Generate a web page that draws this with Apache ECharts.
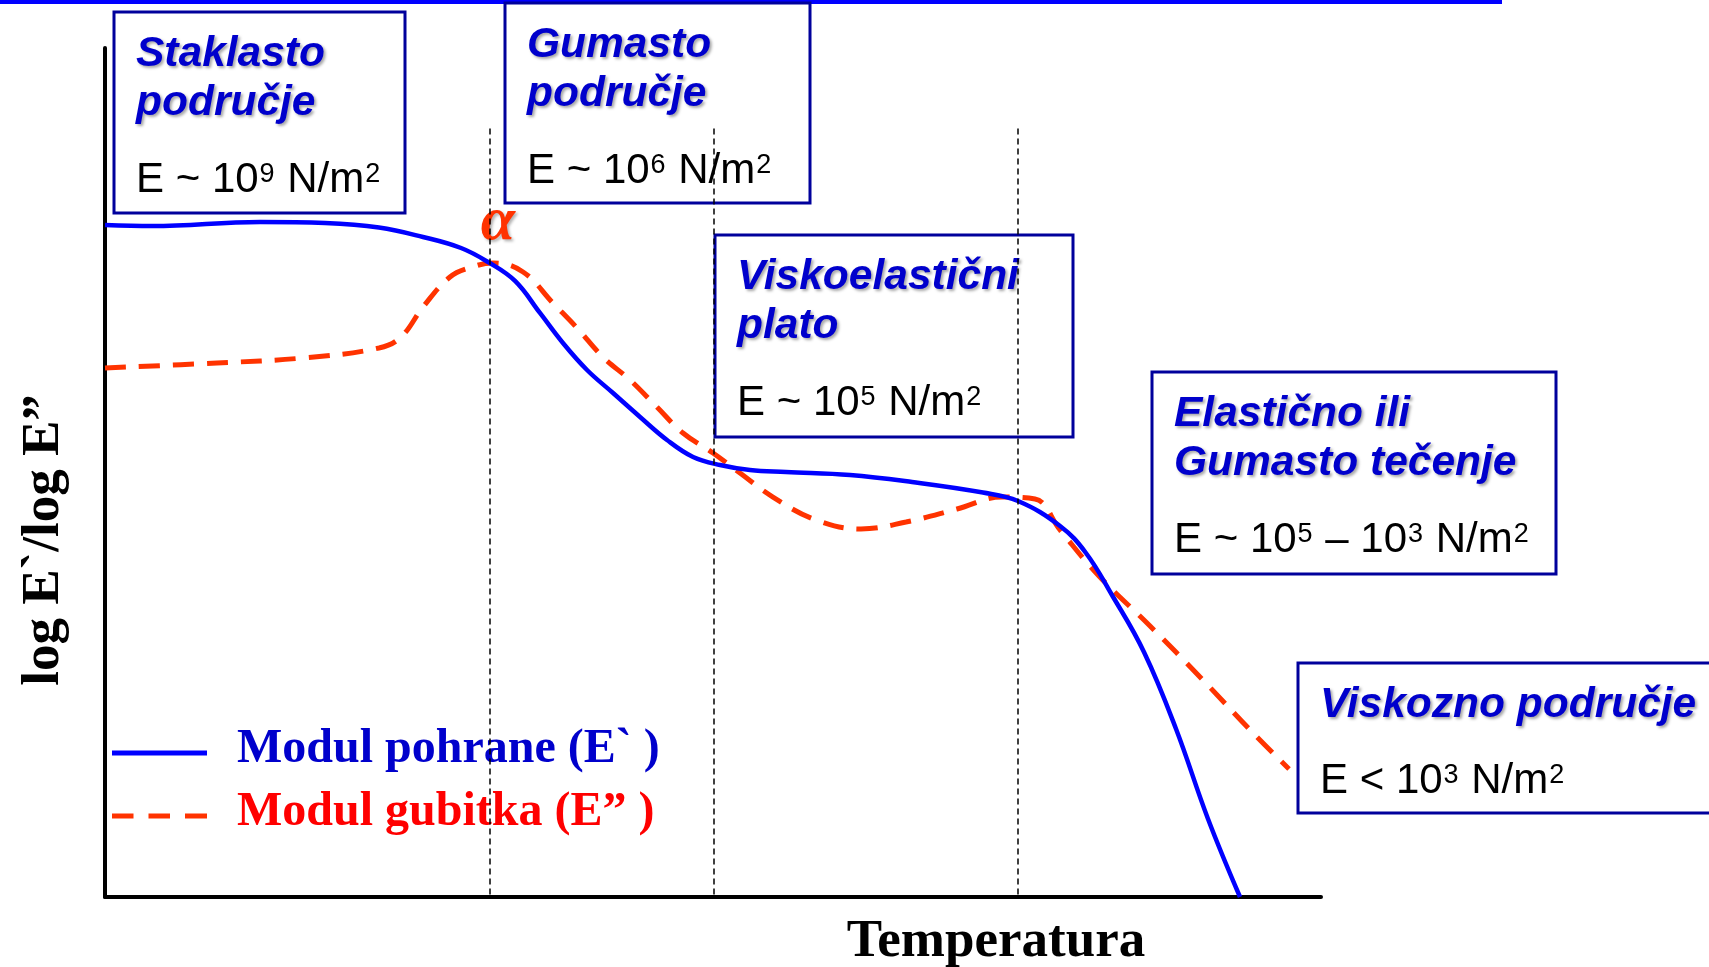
<!DOCTYPE html>
<html>
<head>
<meta charset="utf-8">
<title>Modul pohrane i modul gubitka</title>
<script src="https://cdn.jsdelivr.net/npm/echarts@6/dist/echarts.min.js"></script>
<style>
  html, body { margin: 0; padding: 0; background: #fff; }
  #chart { width: 1709px; height: 967px; }
</style>
</head>
<body>
<div id="chart"></div>
<script>
// temperatura i log modula u proizvoljnim jedinicama (0-100), očitano sa slike
const tempStorage = [0, 3.87, 12.75, 18.09, 22.53, 26.15, 29.28, 31.50, 33.72, 35.77, 37.66, 39.64, 41.78, 44.00, 46.22, 48.36, 50.58, 53.04, 56.00, 61.27, 66.37, 72.20, 75.08, 78.54, 80.67, 82.81, 85.44, 88.08, 90.71, 93.34];
const logStorage = [79.15, 79.03, 79.51, 79.39, 78.86, 77.74, 76.44, 74.79, 72.56, 68.79, 65.25, 62.07, 59.36, 56.54, 53.83, 51.83, 50.88, 50.29, 50.06, 49.71, 48.88, 47.64, 46.64, 43.70, 40.52, 35.57, 28.86, 19.79, 9.19, 0];

const tempLoss = [0, 9.21, 16.28, 22.53, 24.34, 26.15, 28.37, 30.18, 31.91, 34.38, 36.84, 38.82, 40.95, 43.17, 45.39, 47.53, 50.00, 52.22, 54.93, 58.47, 62.17, 65.87, 70.07, 73.77, 76.48, 78.54, 81.74, 85.94, 90.21, 94.41, 97.37];
const logLoss = [62.31, 62.90, 63.49, 64.66, 65.96, 69.49, 73.03, 74.20, 74.68, 73.62, 69.96, 67.02, 63.60, 60.90, 57.71, 54.65, 52.30, 49.94, 47.11, 44.41, 43.35, 44.17, 45.70, 47.11, 46.88, 43.23, 37.81, 31.92, 25.68, 19.32, 15.08];

// granice područja (isprekidane okomite linije)
const transitions = [31.66, 50.08, 75.08];
const transitionTop = 90.7;

const storageName = "Modul pohrane (E` )";
const lossName = "Modul gubitka (E” )";

const SANS = "'Liberation Sans', Arial, sans-serif";
const SERIF = "'Liberation Serif', 'Times New Roman', serif";
const BOX_BLUE = "#00009c";
const TITLE_BLUE = "#0000cc";

// okviri s opisima područja
const boxes = [
  { x: 114, y: 12, w: 291, h: 201, title: ["Staklasto", "područje"], formula: "{n|E ~ 10}{s|9}{n| N/m}{s|2}" },
  { x: 505, y: 3, w: 305, h: 200, title: ["Gumasto", "područje"], formula: "{n|E ~ 10}{s|6}{n| N/m}{s|2}" },
  { x: 715, y: 235, w: 358, h: 202, title: ["Viskoelastični", "plato"], formula: "{n|E ~ 10}{s|5}{n| N/m}{s|2}" },
  { x: 1152, y: 372, w: 404, h: 202, title: ["Elastično ili", "Gumasto tečenje"], formula: "{n|E ~ 10}{s|5}{n| – 10}{s|3}{n| N/m}{s|2}" },
  { x: 1298, y: 663, w: 480, h: 150, title: ["Viskozno područje"], formula: "{n|E < 10}{s|3}{n| N/m}{s|2}" },
];

const formulaRich = {
  n: { fill: "#000", fontSize: 42, fontFamily: SANS, lineHeight: 46 },
  s: { fill: "#000", fontSize: 27, fontFamily: SANS, lineHeight: 27, verticalAlign: "top", padding: [4, 1, 0, 1] },
};

const graphics = [
  { type: "rect", shape: { x: 0, y: 0, width: 1502, height: 4 }, style: { fill: "#0000ff" } },
];

boxes.forEach(function (b) {
  graphics.push({
    type: "rect",
    shape: { x: b.x, y: b.y, width: b.w, height: b.h },
    style: { fill: "none", stroke: BOX_BLUE, lineWidth: 3 },
  });
  b.title.forEach(function (line, i) {
    graphics.push({
      type: "text",
      x: b.x + 22,
      y: b.y + 42 + i * 49.5,
      style: {
        text: line,
        fill: TITLE_BLUE,
        fontSize: 42.5,
        fontFamily: SANS,
        fontWeight: "bold",
        fontStyle: "italic",
        align: "left",
        verticalAlign: "middle",
        textShadowColor: "rgba(0,0,0,0.35)",
        textShadowBlur: 3,
        textShadowOffsetX: 2,
        textShadowOffsetY: 2,
      },
    });
  });
  graphics.push({
    type: "text",
    x: b.x + 22,
    y: b.y + (b.title.length > 1 ? 168 : 118),
    style: { text: b.formula, rich: formulaRich, align: "left", verticalAlign: "middle" },
  });
});

// alfa prijelaz
graphics.push({
  type: "text",
  x: 498,
  y: 223,
  style: {
    text: "α",
    fill: "#ff3300",
    fontSize: 62,
    fontFamily: SERIF,
    fontStyle: "italic",
    fontWeight: "bold",
    align: "center",
    verticalAlign: "middle",
    textShadowColor: "rgba(0,0,0,0.3)",
    textShadowBlur: 3,
    textShadowOffsetX: 2,
    textShadowOffsetY: 2,
  },
});

// naziv osi y
graphics.push({
  type: "text",
  x: 44,
  y: 540,
  rotation: Math.PI / 2,
  style: {
    text: "log E`/log E”",
    fill: "#000",
    fontSize: 53,
    fontFamily: SERIF,
    fontWeight: "bold",
    align: "center",
    verticalAlign: "middle",
  },
});

// naziv osi x
graphics.push({
  type: "text",
  x: 996,
  y: 942,
  style: {
    text: "Temperatura",
    fill: "#000",
    fontSize: 53,
    fontFamily: SERIF,
    fontWeight: "bold",
    align: "center",
    verticalAlign: "middle",
  },
});

const chart = echarts.init(document.getElementById("chart"));

const option = {
  animation: false,
  grid: { left: 105, right: 388, top: 48, bottom: 70 },
  xAxis: {
    type: "value",
    min: 0,
    max: 100,
    axisLine: { show: true, onZero: false, lineStyle: { color: "#000", width: 4 } },
    axisTick: { show: false },
    axisLabel: { show: false },
    splitLine: { show: false },
  },
  yAxis: {
    type: "value",
    min: 0,
    max: 100,
    axisLine: { show: true, onZero: false, lineStyle: { color: "#000", width: 4 } },
    axisTick: { show: false },
    axisLabel: { show: false },
    splitLine: { show: false },
  },
  legend: {
    orient: "vertical",
    left: 112,
    top: 726,
    padding: 0,
    itemWidth: 95,
    itemHeight: 5,
    itemGap: 9,
    selectedMode: false,
    data: [
      { name: storageName, icon: "rect" },
      { name: lossName, icon: "path://M0,0h21.5v5h-21.5z M36.5,0h21.5v5h-21.5z M73,0h22v5h-22z" },
    ],
    formatter: function (name) {
      return name === storageName ? "{gap|}{b|" + name + "}" : "{gap|}{r|" + name + "}";
    },
    textStyle: {
      rich: {
        gap: { width: 25 },
        b: { color: TITLE_BLUE, fontSize: 48, fontWeight: "bold", fontFamily: SERIF, lineHeight: 48, padding: [0, 0, 6, 0] },
        r: { color: "#ff0000", fontSize: 48, fontWeight: "bold", fontFamily: SERIF, lineHeight: 48, padding: [0, 0, 6, 0] },
      },
    },
  },
  series: [
    {
      name: storageName,
      type: "line",
      data: tempStorage.map(function (t, i) { return [t, logStorage[i]]; }),
      smooth: 0.4,
      showSymbol: false,
      symbol: "none",
      lineStyle: { color: "#0000ff", width: 4.5 },
      itemStyle: { color: "#0000ff" },
      z: 3,
      markLine: {
        silent: true,
        symbol: ["none", "none"],
        label: { show: false },
        lineStyle: { color: "#000", width: 1.5, type: [6, 4] },
        data: transitions.map(function (t) {
          return [{ coord: [t, 0.3] }, { coord: [t, transitionTop] }];
        }),
      },
    },
    {
      name: lossName,
      type: "line",
      data: tempLoss.map(function (t, i) { return [t, logLoss[i]]; }),
      smooth: 0.4,
      showSymbol: false,
      symbol: "none",
      lineStyle: { color: "#ff3300", width: 5, type: [21, 13] },
      itemStyle: { color: "#ff3300" },
      z: 2,
    },
  ],
  graphic: graphics,
};

chart.setOption(option);
</script>
</body>
</html>
